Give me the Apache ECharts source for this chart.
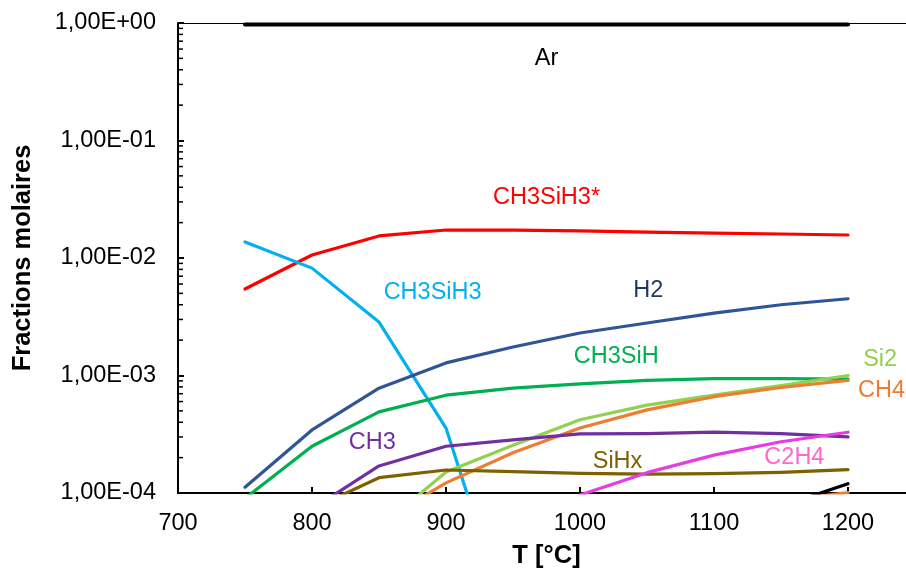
<!DOCTYPE html>
<html>
<head>
<meta charset="utf-8">
<script src="https://cdn.jsdelivr.net/npm/echarts@6/dist/echarts.min.js"></script>
<style>html,body{margin:0;padding:0;background:#fff}#c{width:906px;height:570px}</style>
</head>
<body>
<div id="c"></div>
<script>
// ---- data ----
var temps = [750, 800, 850, 900, 950, 1000, 1050, 1100, 1150, 1200];
var xTicks = [700, 800, 900, 1000, 1100, 1200];
var yTicks = [1e-4, 1e-3, 1e-2, 1e-1, 1];

var Ar        = [0.97, 0.97, 0.97, 0.97, 0.97, 0.97, 0.97, 0.97, 0.97, 0.97];
var CH3SiH3s  = [5.45e-3, 1.06e-2, 1.54e-2, 1.73e-2, 1.73e-2, 1.70e-2, 1.66e-2, 1.63e-2, 1.60e-2, 1.57e-2];
var CH3SiH3   = [1.37e-2, 8.2e-3, 2.85e-3, 3.57e-4, 6e-6, null, null, null, null, null];
var H2        = [1.12e-4, 3.44e-4, 7.8e-4, 1.28e-3, 1.75e-3, 2.3e-3, 2.8e-3, 3.4e-3, 4.0e-3, 4.5e-3];
var CH3SiH    = [9.0e-5, 2.5e-4, 4.9e-4, 6.8e-4, 7.8e-4, 8.5e-4, 9.1e-4, 9.4e-4, 9.4e-4, 9.3e-4];
var Si2       = [null, null, 5.0e-5, 1.51e-4, 2.55e-4, 4.2e-4, 5.6e-4, 6.8e-4, 8.2e-4, 1.0e-3];
var CH4       = [null, null, 5.6e-5, 1.22e-4, 2.2e-4, 3.57e-4, 5.1e-4, 6.6e-4, 7.9e-4, 9.1e-4];
var CH3       = [null, 7.3e-5, 1.7e-4, 2.5e-4, 2.83e-4, 3.18e-4, 3.2e-4, 3.3e-4, 3.2e-4, 3.0e-4];
var SiHx      = [null, 7.3e-5, 1.35e-4, 1.57e-4, 1.52e-4, 1.47e-4, 1.45e-4, 1.46e-4, 1.5e-4, 1.58e-4];
var C2H4      = [null, null, null, null, null, 9.6e-5, 1.49e-4, 2.1e-4, 2.73e-4, 3.29e-4];
var blackMinor  = [null, null, null, null, null, null, null, null, 7.7e-5, 1.2e-4];
var orangeMinor = [null, null, null, null, null, null, null, null, 8.5e-5, 1.01e-4];

// annotation labels: [text, T, value]
var labelText = ['Ar', 'CH3SiH3*', 'CH3SiH3', 'H2', 'CH3SiH', 'Si2', 'CH4', 'CH3', 'SiHx', 'C2H4'];
var labelT    = [975, 975, 890, 1051, 1027, 1224, 1225, 845, 1028, 1160];
var labelV    = [0.50, 0.033, 5.04e-3, 5.24e-3, 1.44e-3, 1.36e-3, 7.4e-4, 2.67e-4, 1.84e-4, 2.02e-4];
var labelColor= ['#000000', '#FF0000', '#00B0F0', '#1F3864', '#00B050', '#92D050', '#ED7D31', '#7030A0', '#7F6000', '#FF66CC'];

var minorMult = [2, 3, 4, 5, 6, 7, 8, 9];

// ---- build ----
var FONT = "'Liberation Sans', Arial, sans-serif";
function pairs(arr) { return temps.map(function (t, i) { return [t, arr[i]]; }); }
function lineSeries(name, arr, color, w) {
  return {
    name: name, type: 'line', data: pairs(arr), symbol: 'none', clip: true,
    lineStyle: { color: color, width: w || 3.2, cap: 'round', join: 'round' },
    itemStyle: { color: color }, connectNulls: false, animation: false, z: 3
  };
}
var minorData = [];
for (var e = -4; e < 0; e++) {
  minorMult.forEach(function (m) { minorData.push([700, m * Math.pow(10, e)]); });
}
function fmtSci(v) {
  var ex = Math.round(Math.log10(v));
  var s = ex < 0 ? '-' : '+';
  var a = Math.abs(ex);
  return '1,00E' + s + (a < 10 ? '0' + a : '' + a);
}
var annData = labelText.map(function (t, i) {
  return { value: [labelT[i], labelV[i]], name: t,
    label: { show: true, formatter: t, color: labelColor[i], textBorderWidth: 0, opacity: 1 } };
});

var chart = echarts.init(document.getElementById('c'), null, { renderer: 'canvas' });
chart.setOption({
  animation: false,
  backgroundColor: '#ffffff',
  textStyle: { fontFamily: FONT },
  grid: { left: 178, top: 23, width: 737, height: 470, show: false, containLabel: false, outerBoundsMode: 'none' },
  xAxis: [{
    type: 'value', min: 700, max: 1250, interval: 100,
    name: 'T [°C]', nameLocation: 'middle', nameGap: 50,
    nameTextStyle: { fontFamily: FONT, fontSize: 25.5, fontWeight: 'bold', color: '#000' },
    axisLine: { show: true, onZero: false, lineStyle: { color: '#000', width: 2 } },
    axisTick: { show: true, inside: true, length: 6, lineStyle: { color: '#000', width: 2 },
      customValues: xTicks },
    axisLabel: { fontFamily: FONT, fontSize: 23.5, color: '#000', margin: 19,
      customValues: xTicks,
      formatter: function (v) { return xTicks.indexOf(v) >= 0 ? String(v) : ''; } },
    splitLine: { show: false }
  }, {
    type: 'value', min: 700, max: 1250, position: 'top',
    axisLine: { show: true, onZero: false, lineStyle: { color: '#000', width: 1 } },
    axisTick: { show: false }, axisLabel: { show: false }, splitLine: { show: false }
  }],
  yAxis: {
    type: 'log', logBase: 10, min: 1e-4, max: 1,
    name: 'Fractions molaires', nameLocation: 'middle', nameGap: 142, nameRotate: 90,
    nameTextStyle: { fontFamily: FONT, fontSize: 25.5, fontWeight: 'bold', color: '#000' },
    axisLine: { show: true, lineStyle: { color: '#000', width: 2 } },
    axisTick: { show: true, inside: true, length: 6, lineStyle: { color: '#000', width: 2 } },
    axisLabel: { fontFamily: FONT, fontSize: 23.5, color: '#000', margin: 22,
      formatter: function (v) {
        for (var i = 0; i < yTicks.length; i++) if (Math.abs(Math.log10(v) - Math.log10(yTicks[i])) < 1e-6) return fmtSci(v);
        return '';
      } },
    splitLine: { show: false }
  },
  series: [
    lineSeries('Ar', Ar, '#000000', 4),
    lineSeries('CH3SiH3*', CH3SiH3s, '#FF0000'),
    lineSeries('CH3SiH3', CH3SiH3, '#00B0F0'),
    lineSeries('H2', H2, '#2F5597'),
    lineSeries('CH3SiH', CH3SiH, '#00B050'),
    lineSeries('Si2', Si2, '#92D050'),
    lineSeries('CH4', CH4, '#ED7D31'),
    lineSeries('CH3', CH3, '#7030A0'),
    lineSeries('SiHx', SiHx, '#7F6000'),
    lineSeries('C2H4', C2H4, '#E63CE6'),
    lineSeries('orangeMinor', orangeMinor, '#ED7D31'),
    lineSeries('blackMinor', blackMinor, '#000000'),
    {
      type: 'custom', data: minorData, clip: false, silent: true, z: 5,
      renderItem: function (params, api) {
        var p = api.coord([api.value(0), api.value(1)]);
        return { type: 'line', shape: { x1: p[0], y1: p[1], x2: p[0] + 5, y2: p[1] },
          style: { stroke: '#000', lineWidth: 1.5 } };
      }
    },
    {
      type: 'scatter', data: annData, symbolSize: 1, itemStyle: { color: 'rgba(255,255,255,0)' }, silent: true, z: 6,
      label: { show: true, position: 'inside', fontFamily: FONT, fontSize: 23.5, textBorderWidth: 0 }
    }
  ]
});
</script>
</body>
</html>
